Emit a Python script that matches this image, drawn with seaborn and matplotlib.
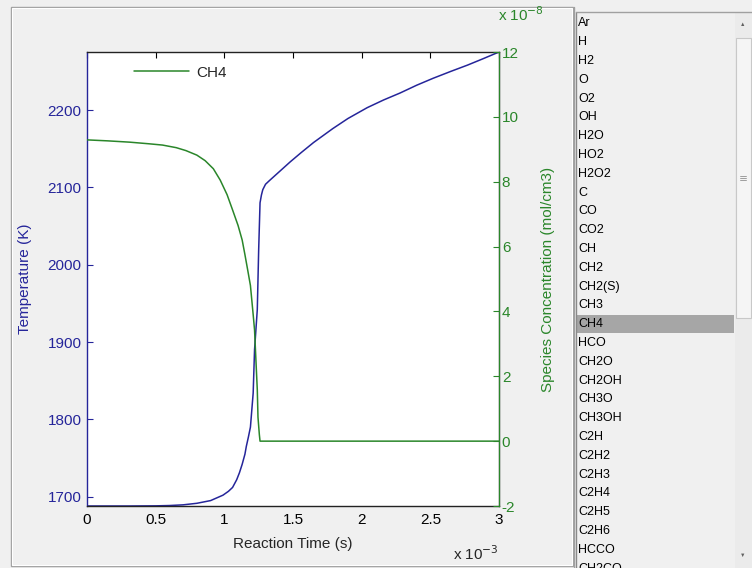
import numpy as np
import matplotlib
matplotlib.use('Agg')
import matplotlib.pyplot as plt
import seaborn as sns
from matplotlib.patches import Rectangle

# Temperature trace (time in ms, temperature in K)
temp_time = [0, 0.3, 0.5, 0.6, 0.7, 0.8, 0.9, 0.99, 1.03, 1.06, 1.09, 1.11, 1.13,
             1.15, 1.16, 1.175, 1.19, 1.21, 1.22, 1.24, 1.25, 1.26, 1.27, 1.28, 1.30, 1.33,
             1.38, 1.43, 1.48, 1.56, 1.65, 1.72, 1.79, 1.90, 2.04, 2.16, 2.28, 2.40, 2.52,
             2.65, 2.77, 2.88, 3.0]
temp_vals = [1688, 1688, 1688.2, 1688.6, 1689.5, 1691.5, 1695, 1702, 1707, 1712, 1722, 1731,
             1742, 1755, 1765, 1777, 1790, 1834, 1890, 1942, 2019, 2080, 2090, 2097, 2104, 2109,
             2117, 2125, 2133, 2145, 2158, 2167, 2176, 2189, 2203, 2213, 2222, 2232, 2241,
             2250, 2258, 2266, 2275]

# CH4 concentration (time in ms, concentration in 1e-8 mol/cm3)
ch4_time = [0, 0.15, 0.31, 0.45, 0.55, 0.65, 0.72, 0.80, 0.86, 0.92, 0.97, 1.02, 1.06, 1.10,
            1.13, 1.15, 1.17, 1.19, 1.20, 1.21, 1.22, 1.23, 1.24, 1.245, 1.255, 1.26, 2.0, 3.0]
ch4_vals = [9.29, 9.26, 9.22, 9.17, 9.13, 9.05, 8.96, 8.82, 8.65, 8.4, 8.05, 7.6, 7.13, 6.65,
            6.2, 5.75, 5.28, 4.8, 4.35, 3.9, 3.43, 2.5, 1.58, 0.74, 0.2, 0.0, 0.0, 0.0]

x_ticks = [0, 0.5, 1, 1.5, 2, 2.5, 3]
x_tick_labels = ['0', '0.5', '1', '1.5', '2', '2.5', '3']
left_ticks = [1700, 1800, 1900, 2000, 2100, 2200]
right_ticks = [-2, 0, 2, 4, 6, 8, 10, 12]

species = ['Ar', 'H', 'H2', 'O', 'O2', 'OH', 'H2O', 'HO2', 'H2O2', 'C', 'CO', 'CO2',
           'CH', 'CH2', 'CH2(S)', 'CH3', 'CH4', 'HCO', 'CH2O', 'CH2OH', 'CH3O', 'CH3OH',
           'C2H', 'C2H2', 'C2H3', 'C2H4', 'C2H5', 'C2H6', 'HCCO', 'CH2CO']
selected = 'CH4'

BLUE = '#25259a'
GREEN = '#2a862a'
BG = '#f0f0f0'
FS = 11

sns.set_style('white')
plt.rcParams['font.family'] = ['Liberation Sans', 'DejaVu Sans']
plt.rcParams['axes.unicode_minus'] = False

W, H = 752, 568
fig = plt.figure(figsize=(W / 100, H / 100), dpi=100, facecolor=BG)

# panel frame (etched border)
frame = fig.add_axes([0, 0, 1, 1], facecolor='none')
frame.set_xlim(0, W)
frame.set_ylim(H, 0)
frame.axis('off')
frame.add_patch(Rectangle((11, 7), 562, 559, fill=False, ec='#a0a0a0', lw=1))
frame.add_patch(Rectangle((12, 8), 560, 557, fill=False, ec='white', lw=0.8))

# main axes
ax = fig.add_axes([87 / W, 1 - 506 / H, 412 / W, 454 / H], facecolor='white')
sns.lineplot(x=temp_time, y=temp_vals, ax=ax, color=BLUE, lw=1.1, estimator=None)
ax.set_xlim(0, 3)
ax.set_ylim(min(temp_vals), max(temp_vals))
ax.set_xticks(x_ticks)
ax.set_xticklabels(x_tick_labels)
ax.set_yticks(left_ticks)
ax.tick_params(axis='x', direction='in', length=4, top=True, labelsize=FS, colors='black', pad=5)
ax.tick_params(axis='y', direction='in', length=4, right=True, labelsize=FS,
               colors=BLUE, labelcolor=BLUE, pad=4)
ax.set_xlabel('Reaction Time (s)', fontsize=FS, labelpad=7)
ax.set_ylabel('Temperature (K)', fontsize=FS, color=BLUE, labelpad=11)
for side in ['top', 'bottom']:
    ax.spines[side].set_color('#222222')
ax.spines['left'].set_color(BLUE)
for s in ax.spines.values():
    s.set_linewidth(1)
ax.text(1.0, -0.105, r'x 10$^{-3}$', transform=ax.transAxes, ha='right', va='center', fontsize=FS)

ax2 = ax.twinx()
sns.lineplot(x=ch4_time, y=ch4_vals, ax=ax2, color=GREEN, lw=1.1, estimator=None, label='CH4')
ax2.set_ylim(-2, 12)
ax2.set_yticks(right_ticks)
ax2.tick_params(axis='y', direction='in', length=4, labelsize=FS, colors=GREEN,
                labelcolor=GREEN, pad=2)
ax2.set_ylabel('Species Concentration (mol/cm3)', fontsize=FS, color=GREEN, labelpad=16)
ax2.spines['right'].set_color(GREEN)
ax2.spines['left'].set_visible(False)
ax2.spines['top'].set_visible(False)
ax2.spines['bottom'].set_visible(False)
ax2.text(0.997, 1.082, r'x 10$^{-8}$', transform=ax2.transAxes, ha='left', va='center',
         fontsize=FS, color=GREEN)
ax2.legend(loc='upper left', bbox_to_anchor=(0.08, 1.0), frameon=False, fontsize=FS,
           handlelength=3.6, handletextpad=0.5)

# species list box
lb = fig.add_axes([0, 0, 1, 1], facecolor='none')
lb.set_xlim(0, W)
lb.set_ylim(H, 0)
lb.axis('off')
lb.plot([574, 574], [7, H], color='#a0a0a0', lw=1)
lb.plot([576, 576], [12, H], color='#8a8a8a', lw=1)
lb.plot([576, W], [12, 12], color='#a0a0a0', lw=1)
row_h = 18.8
top = 14
for i, name in enumerate(species):
    yc = top + (i + 0.5) * row_h
    if name == selected:
        lb.add_patch(Rectangle((577, yc - row_h / 2 + 0.5), 157, row_h - 1, color='#a6a6a6', lw=0))
    lb.text(578, yc, name, ha='left', va='center', fontsize=9, color='black', clip_on=True)
# scrollbar
lb.add_patch(Rectangle((735, 13), 17, H - 13, color='#ebebeb', lw=0))
lb.add_patch(Rectangle((736, 38), 15, 280, fc='#f5f5f5', ec='#c8c8c8', lw=0.8))
lb.text(743, 25, '\u25b2', ha='center', va='center', fontsize=4, color='#606060')
lb.text(743, 555, '\u25bc', ha='center', va='center', fontsize=4, color='#606060')
for dy in (-2, 0, 2):
    lb.plot([740, 746], [178 + dy, 178 + dy], color='#909090', lw=0.6)

fig.savefig('out.png', dpi=100, facecolor=BG)
